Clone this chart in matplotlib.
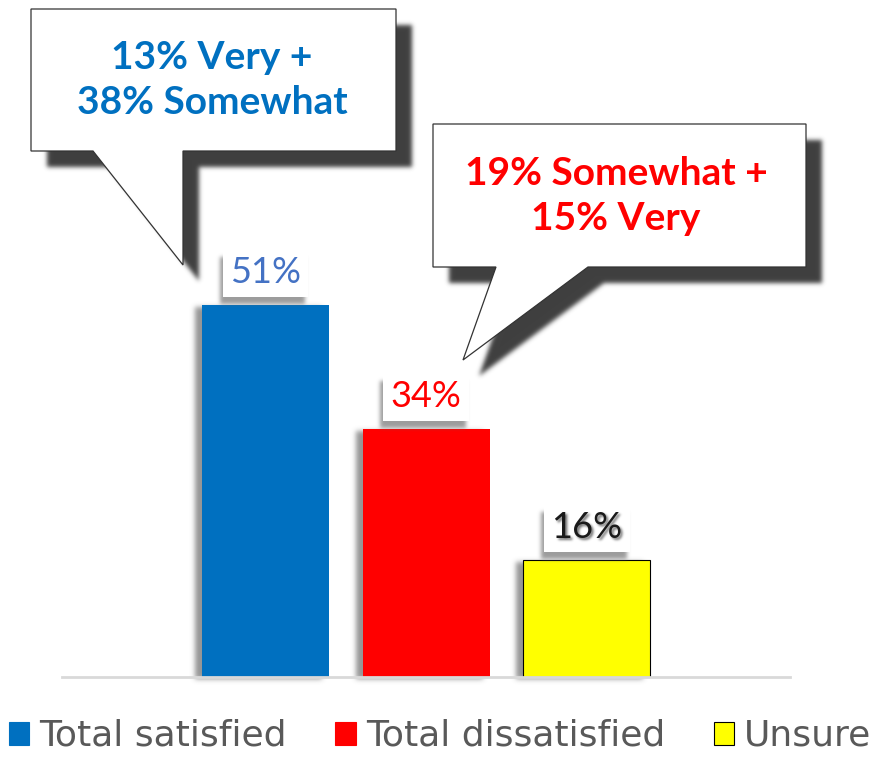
import numpy as np
import matplotlib
matplotlib.use("Agg")
import matplotlib.pyplot as plt
from matplotlib.patches import Polygon, Rectangle, Patch

# data
categories = ["Total satisfied", "Total dissatisfied", "Unsure"]
values = [51, 34, 16]
bar_colors = ["#0070C0", "#FF0000", "#FFFF00"]
label_colors = ["#4472C4", "#FF0000", "#1A1A1A"]
callout_texts = ["13% Very +\n38% Somewhat", "19% Somewhat +\n15% Very"]
callout_colors = ["#0070C0", "#FF0000"]

W, H = 873, 757


class Shadow:
    # agg filter: shifted, blurred, single colour copy of the artist
    def __init__(self, dx, dy, sigma, color, alpha):
        self.dx, self.dy, self.sigma = dx, dy, sigma
        self.color, self.alpha = color, alpha

    def __call__(self, im, dpi):
        r = int(3 * self.sigma) + 1
        pad = r + abs(self.dx) + abs(self.dy) + 2
        a = np.pad(im[..., 3], pad)
        a = np.roll(a, self.dx, axis=1)
        a = np.roll(a, self.dy, axis=0)
        k = np.exp(-0.5 * (np.arange(-r, r + 1) / self.sigma) ** 2)
        k /= k.sum()
        b = sum(w * np.roll(a, i - r, axis=0) for i, w in enumerate(k))
        b = sum(w * np.roll(b, i - r, axis=1) for i, w in enumerate(k))
        out = np.zeros(b.shape + (4,), dtype=im.dtype)
        out[..., :3] = self.color
        out[..., 3] = np.clip(b * self.alpha, 0, 1)
        return out, -pad, -pad


fig = plt.figure(figsize=(W / 100, H / 100), dpi=100)

# main bar axes, placed in pixel terms
ax = fig.add_axes([62 / W, 80 / H, 728 / W, 677 / H])
x = np.arange(len(values))
px_per_unit = 372 / 51
ax.set_ylim(0, 677 / px_per_unit)
ax.set_xlim(-1.266, 3.263)
bw = 0.79

sh = ax.bar(x, values, width=bw, color="gray", zorder=1)
for b in sh:
    b.set_agg_filter(Shadow(-7, 2, 2.5, (0.45, 0.45, 0.45), 0.75))
bars = ax.bar(x, values, width=bw, color=bar_colors, zorder=2)
bars[2].set_edgecolor("black")
bars[2].set_linewidth(0.8)

for s in ["top", "left", "right"]:
    ax.spines[s].set_visible(False)
ax.spines["bottom"].set_color("#D9D9D9")
ax.spines["bottom"].set_linewidth(2)
ax.set_xticks([])
ax.set_yticks([])
ax.patch.set_alpha(0)

# value labels in white boxes
box_w = 86 / 160.75
box_h = 47 / px_per_unit
gap = 8 / px_per_unit
for i, v in enumerate(values):
    y0 = v + gap
    shadow_box = Rectangle((x[i] - box_w / 2, y0), box_w, box_h, fc="gray",
                           ec="none", zorder=3)
    shadow_box.set_agg_filter(Shadow(-3, 7, 2.0, (0.4, 0.4, 0.4), 0.65))
    ax.add_patch(shadow_box)
    ax.add_patch(Rectangle((x[i] - box_w / 2, y0), box_w, box_h, fc="white",
                           ec="none", zorder=4))
    ty = y0 + 14 / px_per_unit
    if i == 2:
        t = ax.text(x[i], ty, f"{v}%", ha="center", va="baseline", fontsize=26,
                    family=["Lato", "DejaVu Sans"], color="gray", zorder=5)
        t.set_agg_filter(Shadow(2, 2, 1.2, (0.2, 0.2, 0.2), 0.7))
    ax.text(x[i], ty, f"{v}%", ha="center", va="baseline", fontsize=26,
            family=["Lato", "DejaVu Sans"], color=label_colors[i], zorder=6)

# callouts, drawn in figure pixel space
ov = fig.add_axes([0, 0, 1, 1], zorder=5)
ov.set_xlim(0, W)
ov.set_ylim(H, 0)
ov.axis("off")

callouts = [
    [(31, 9), (396, 9), (396, 151), (183, 151), (183, 265), (93, 151), (31, 151)],
    [(433, 124), (806, 124), (806, 267), (588, 267), (463, 360), (496, 267), (433, 267)],
]
text_pos = [(212, 80), (616, 196)]
for pts, (tx, ty), txt, c in zip(callouts, text_pos, callout_texts, callout_colors):
    s = Polygon(pts, closed=True, fc="black", ec="none", zorder=1)
    s.set_agg_filter(Shadow(16, 16, 2.2, (0.25, 0.25, 0.25), 1.0))
    ov.add_patch(s)
    ov.add_patch(Polygon(pts, closed=True, fc="white", ec="#333333", lw=0.9, zorder=2))
    ov.text(tx, ty, txt, ha="center", va="center", fontsize=28, fontweight="bold",
            family=["Lato", "DejaVu Sans"], color=c, linespacing=1.32, zorder=3)

# legend
handles = [Patch(facecolor=c, edgecolor=("black" if i == 2 else c), lw=0.8)
           for i, c in enumerate(bar_colors)]
fig.legend(handles, categories, loc="center", bbox_to_anchor=(440 / W, 1 - 736 / H),
           ncol=3, frameon=False, fontsize=26, handlelength=0.56, handleheight=0.6,
           handletextpad=0.28, columnspacing=1.35, borderpad=0, labelcolor="#595959")

fig.savefig("out.png", dpi=100)
